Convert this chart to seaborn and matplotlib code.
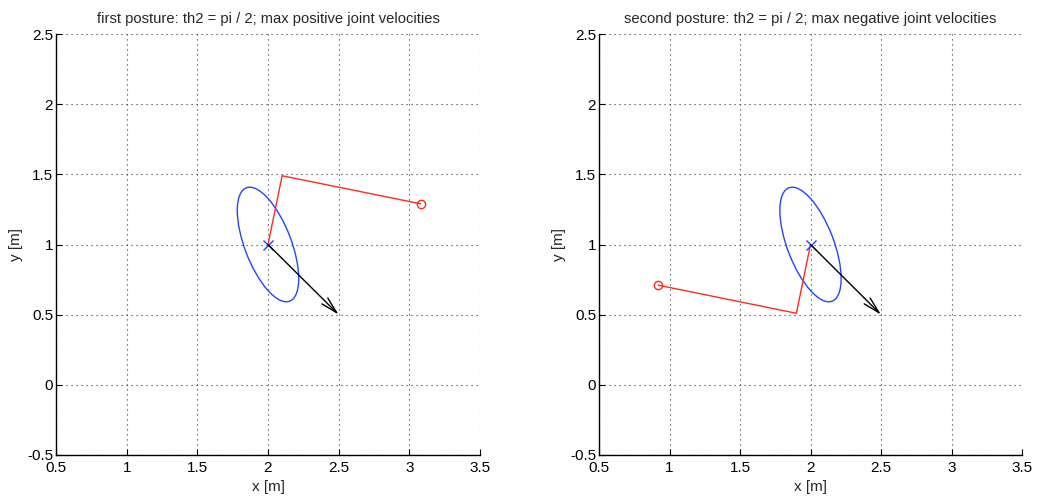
import numpy as np
import pandas as pd
import matplotlib
matplotlib.use("Agg")
import matplotlib.pyplot as plt
from matplotlib.patches import Ellipse
import seaborn as sns

# ---- data ----
titles = ["first posture: th2 = pi / 2; max positive joint velocities",
          "second posture: th2 = pi / 2; max negative joint velocities"]
arm1_x = [3.08, 2.10, 2.00]
arm1_y = [1.29, 1.49, 1.00]
arm2_x = [0.92, 1.90, 2.00]
arm2_y = [0.71, 0.51, 1.00]
ee_center = [2.0, 1.0]
ellipse_width = 0.864
ellipse_height = 0.33
ellipse_angle = 110.75
arrow_tip = [2.5, 0.5]
x_ticks = [0.5, 1, 1.5, 2, 2.5, 3, 3.5]
y_ticks = [-0.5, 0, 0.5, 1, 1.5, 2, 2.5]
x_ticklabels = ["0.5", "1", "1.5", "2", "2.5", "3", "3.5"]
y_ticklabels = ["-0.5", "0", "0.5", "1", "1.5", "2", "2.5"]

sns.set_style("white")
plt.rcParams['font.family'] = ['Liberation Sans', 'DejaVu Sans']

RED = '#ff2a1a'
BLUE = '#2343ff'

fig = plt.figure(figsize=(10.41, 5.0), dpi=100)
W, H = 1041, 500
axes = [fig.add_axes([56 / W, (H - 455) / H, 424 / W, 421 / H]),
        fig.add_axes([599 / W, (H - 455) / H, 423 / W, 421 / H])]

arms = [(arm1_x, arm1_y), (arm2_x, arm2_y)]
for ax, title, (ax_x, ax_y) in zip(axes, titles, arms):
    df = pd.DataFrame({"x": ax_x, "y": ax_y})
    sns.lineplot(data=df, x="x", y="y", sort=False, color=RED, lw=1.0,
                 ax=ax, estimator=None)
    # base marker
    ax.plot(ax_x[0], ax_y[0], 'o', mfc='none', mec=RED, ms=6, mew=1.0)
    # ellipse
    ax.add_patch(Ellipse(xy=ee_center, width=ellipse_width, height=ellipse_height,
                         angle=ellipse_angle, fill=False, ec=BLUE, lw=1.0))
    # end effector marker
    ax.plot(ee_center[0], ee_center[1], 'x', color=BLUE, ms=7, mew=1.0)
    # velocity arrow
    ax.annotate("", xy=arrow_tip, xytext=ee_center,
                arrowprops=dict(arrowstyle="->,head_length=1.2,head_width=0.3",
                                color='black', lw=1.0, shrinkA=0, shrinkB=0))

    ax.set_xlim(0.5, 3.5)
    ax.set_ylim(-0.5, 2.5)
    ax.set_xticks(x_ticks)
    ax.set_xticklabels(x_ticklabels)
    ax.set_yticks(y_ticks)
    ax.set_yticklabels(y_ticklabels)
    ax.grid(True, linestyle=(0, (1, 3.5)), color='#333333', lw=0.8)
    for s in ['top', 'right']:
        ax.spines[s].set_visible(False)
    for s in ['left', 'bottom']:
        ax.spines[s].set_color('black')
        ax.spines[s].set_linewidth(1.0)
    ax.tick_params(direction='in', length=4, width=0.8, labelsize=11,
                   left=True, bottom=True, top=False, right=False,
                   colors='black')
    ax.tick_params(axis='x', pad=4)
    ax.tick_params(axis='y', pad=2)
    ax.set_xlabel("x [m]", fontsize=11, labelpad=4)
    ax.set_ylabel("y [m]", fontsize=11, labelpad=3)
    ax.set_title(title, fontsize=10.6, pad=8)

fig.savefig("out.png", dpi=100)
